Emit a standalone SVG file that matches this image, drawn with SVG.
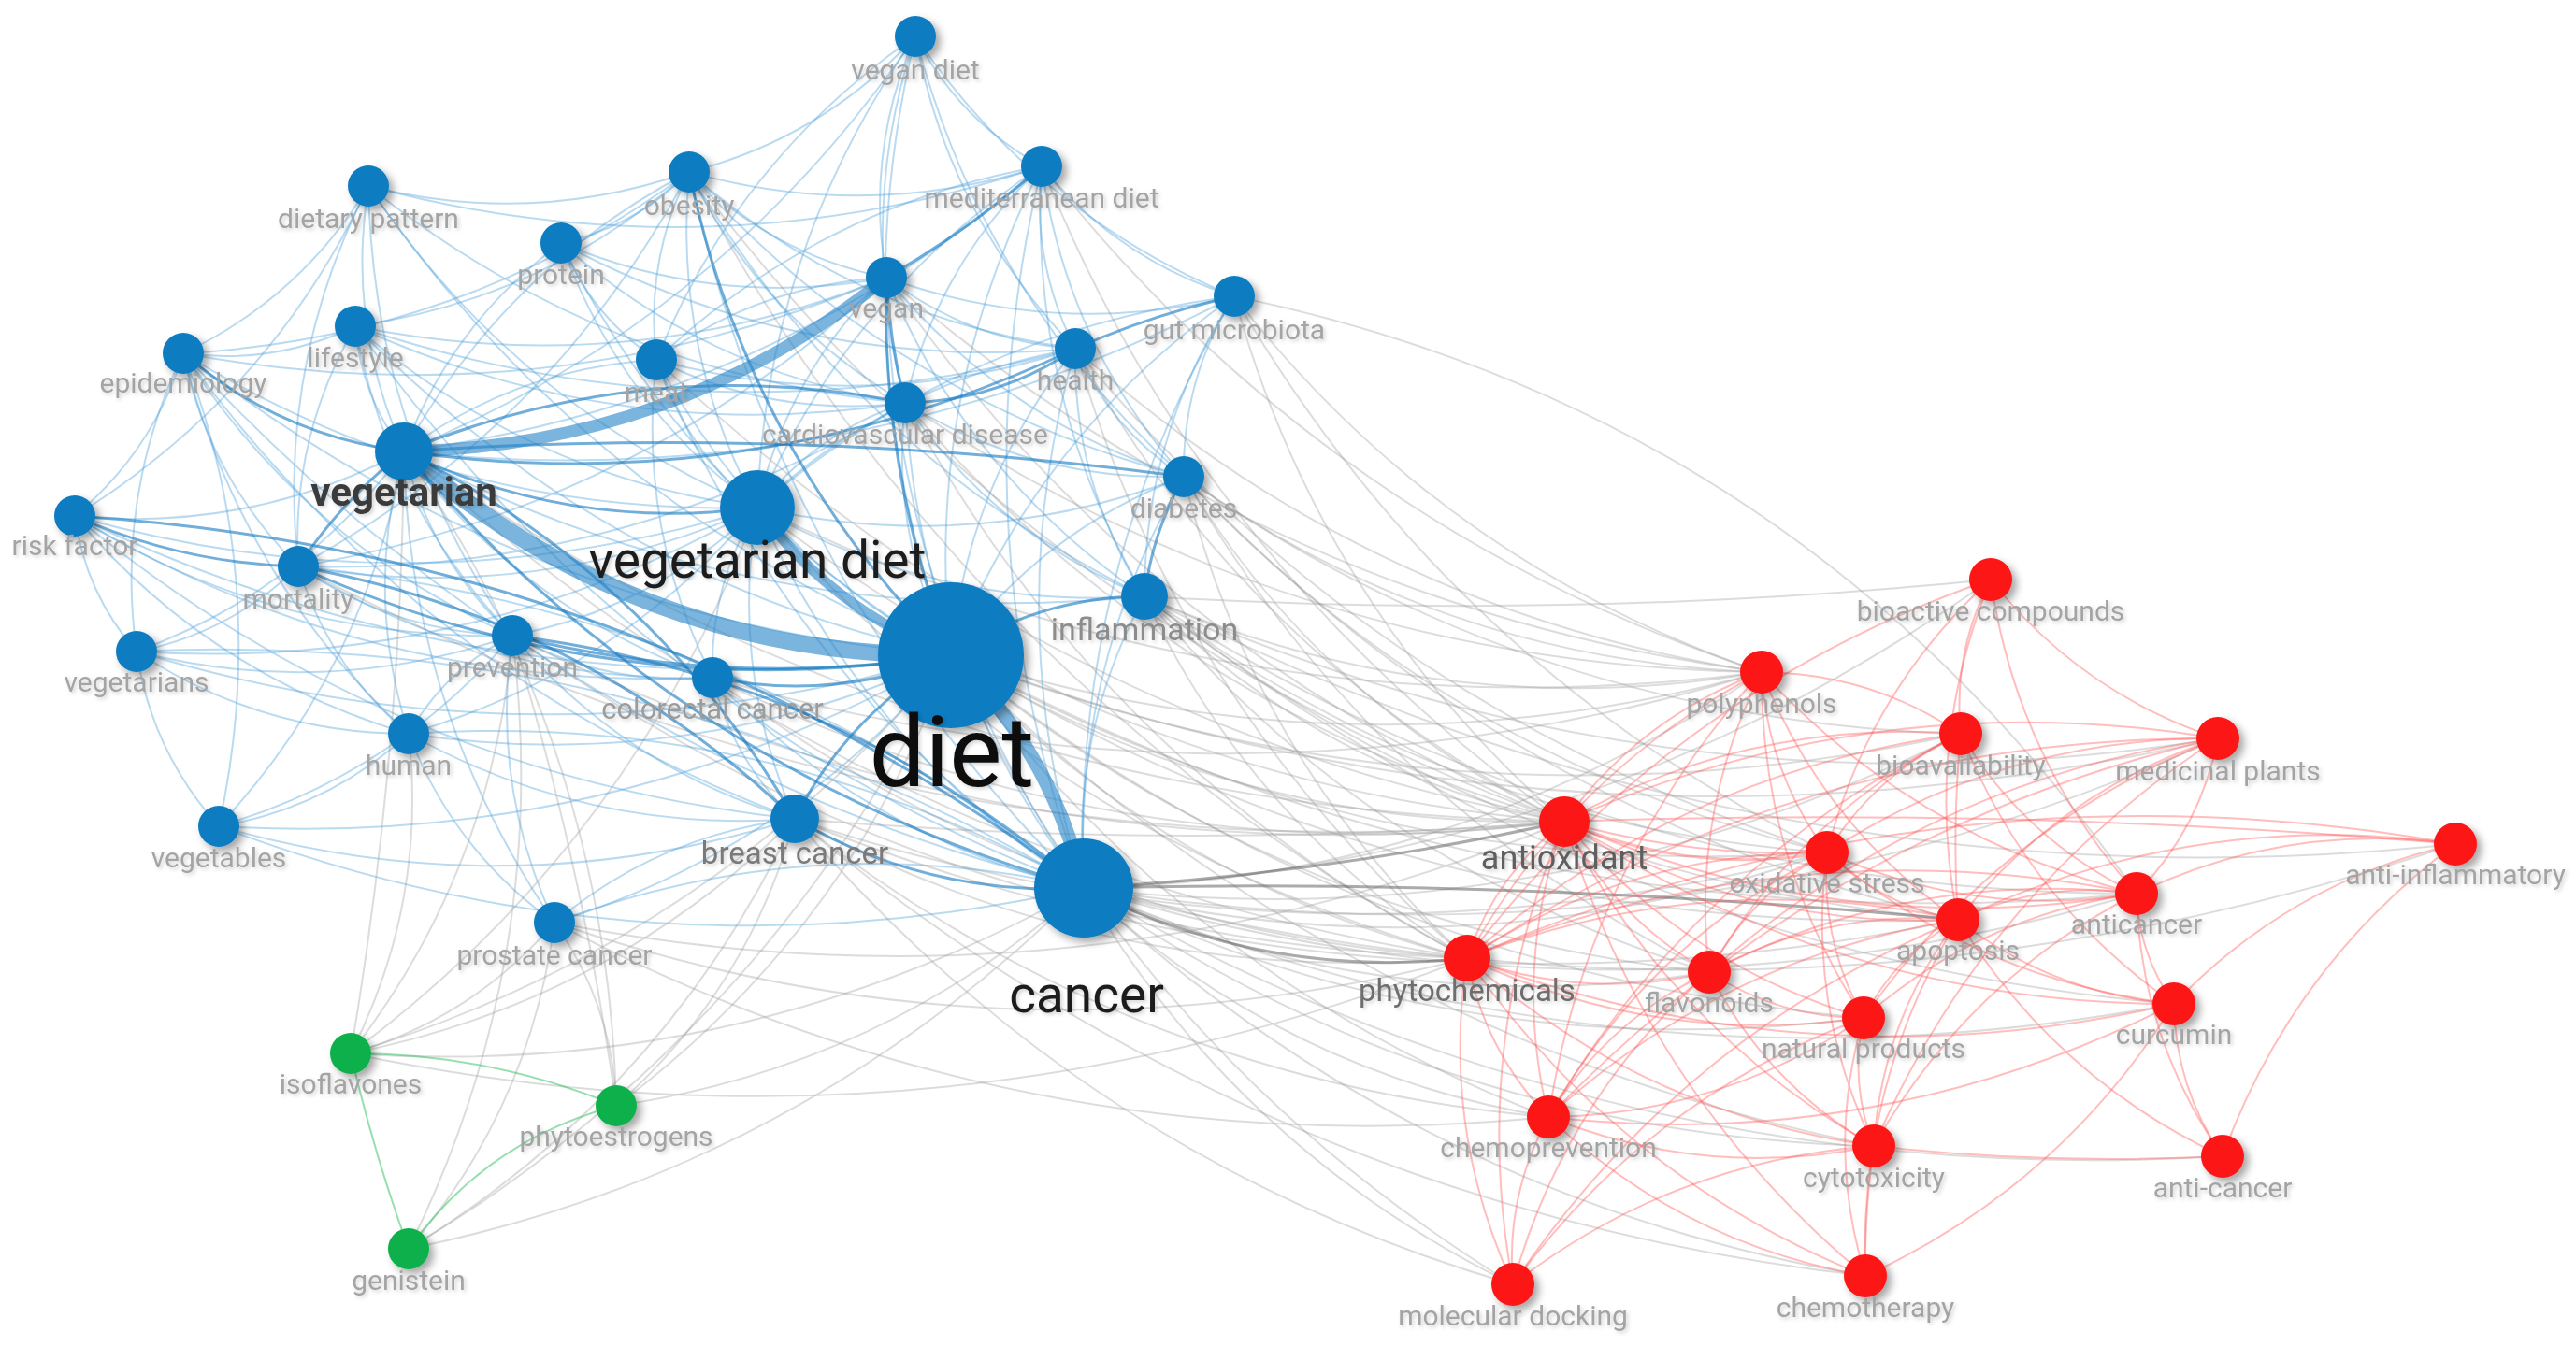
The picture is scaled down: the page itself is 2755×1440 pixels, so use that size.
<svg xmlns="http://www.w3.org/2000/svg" width="2755" height="1440" viewBox="0 0 2755 1440">
<defs>
<filter id="sh" x="-60%" y="-60%" width="220%" height="220%"><feDropShadow dx="5" dy="5" stdDeviation="4" flood-color="#000" flood-opacity="0.35"/></filter>
<filter id="ts" x="-10%" y="-40%" width="120%" height="180%"><feDropShadow dx="2" dy="2" stdDeviation="2" flood-color="#000" flood-opacity="0.18"/></filter>
<style>
.e path{fill:none;vector-effect:non-scaling-stroke;stroke-linecap:round}
.g path{stroke:#999;stroke-opacity:.34;stroke-width:2}
.g2 path{stroke:#666;stroke-opacity:.55;stroke-width:3}
.r path{stroke:#ff5a5a;stroke-opacity:.4;stroke-width:2}
.gr path{stroke:#2fbf62;stroke-opacity:.5;stroke-width:2}
.b path{stroke:#4a9fd8;stroke-opacity:.38;stroke-width:2}
.bm path{stroke:#1a7dc2;stroke-opacity:.62;stroke-width:3}
.tk path{stroke:#2a86c8;stroke-opacity:.62}
.nb circle{fill:#0b7cc1;filter:url(#sh)}
.nr circle{fill:#fc1515;filter:url(#sh)}
.ng circle{fill:#0db04b;filter:url(#sh)}
text{font-family:Roboto,"Liberation Sans",Arial,sans-serif;font-size:30px;fill:#a4a4a4;text-anchor:middle;filter:url(#ts)}
text.vg{font-size:42px;font-weight:bold;fill:#3a3a3a}
text.vd{font-size:55px;fill:#1c1c1c}
text.di{font-size:106px;fill:#111}
text.ca{font-size:55px;fill:#1c1c1c}
text.in{font-size:34px;fill:#8c8c8c}
text.bc{font-size:33px;fill:#7a7a7a}
text.cc{font-size:31px;fill:#9c9c9c}
text.ao{font-size:36px;fill:#5e5e5e}
text.ph{font-size:33px;fill:#6e6e6e}
</style>
</defs>
<rect width="2755" height="1440" fill="#fff"/>
<g id="connectors">
<g class="e g">
<path d="M0 0Q.5 .15 1 0" transform="matrix(656 178 -178 656 1017 701)"/>
<path d="M0 0Q.5 .15 1 0" transform="matrix(552 324 -324 552 1017 701)"/>
<path d="M0 0Q.5 .15 1 0" transform="matrix(867 18 -18 867 1017 701)"/>
<path d="M0 0Q.5 .15 1 0" transform="matrix(937 211 -211 937 1017 701)"/>
<path d="M0 0Q.5 .15 1 0" transform="matrix(811 339 -339 811 1017 701)"/>
<path d="M0 0Q.5 .15 1 0" transform="matrix(1077 283 -283 1077 1017 701)"/>
<path d="M0 0Q.5 .15 1 0" transform="matrix(1080 84 -84 1080 1017 701)"/>
<path d="M0 0Q.5 .15 1 0" transform="matrix(976 388 -388 976 1017 701)"/>
<path d="M0 0Q.5 .15 1 0" transform="matrix(639 494 -494 639 1017 701)"/>
<path d="M0 0Q.5 .15 1 0" transform="matrix(1268 255 -255 1268 1017 701)"/>
<path d="M0 0Q.5 .15 1 0" transform="matrix(1355 89 -89 1355 1017 701)"/>
<path d="M0 0Q.5 .15 1 0" transform="matrix(601 673 -673 601 1017 701)"/>
<path d="M0 0Q.5 .15 1 0" transform="matrix(987 525 -525 987 1017 701)"/>
<path d="M0 0Q.5 .15 1 0" transform="matrix(725 -231 231 725 1159 950)"/>
<path d="M0 0Q.5 .15 1 0" transform="matrix(795 -38 38 795 1159 950)"/>
<path d="M0 0Q.5 .15 1 0" transform="matrix(669 90 -90 669 1159 950)"/>
<path d="M0 0Q.5 .15 1 0" transform="matrix(497 245 -245 497 1159 950)"/>
<path d="M0 0Q.5 .15 1 0" transform="matrix(834 139 -139 834 1159 950)"/>
<path d="M0 0Q.5 .15 1 0" transform="matrix(845 276 -276 845 1159 950)"/>
<path d="M0 0Q.5 .15 1 0" transform="matrix(836 415 -415 836 1159 950)"/>
<path d="M0 0Q.5 .15 1 0" transform="matrix(1126 6 -6 1126 1159 950)"/>
<path d="M0 0Q.5 .15 1 0" transform="matrix(1166 124 -124 1166 1159 950)"/>
<path d="M0 0Q.5 .15 1 0" transform="matrix(459 424 -424 459 1159 950)"/>
<path d="M0 0Q.5 .15 1 0" transform="matrix(938 -165 165 938 1159 950)"/>
<path d="M0 0Q.5 .15 1 0" transform="matrix(1213 -160 160 1213 1159 950)"/>
<path d="M0 0Q.5 .15 1 0" transform="matrix(1467 -47 47 1467 1159 950)"/>
<path d="M0 0Q.5 .15 1 0" transform="matrix(970 -330 330 970 1159 950)"/>
<path d="M0 0Q.5 .15 1 0" transform="matrix(1218 287 -287 1218 1159 950)"/>
<path d="M0 0Q.5 .04 1 0" transform="matrix(905 -18 18 905 1224 638)"/>
<path d="M0 0Q.5 .15 1 0" transform="matrix(449 241 -241 449 1224 638)"/>
<path d="M0 0Q.5 .15 1 0" transform="matrix(730 274 -274 730 1224 638)"/>
<path d="M0 0Q.5 .15 1 0" transform="matrix(660 81 -81 660 1224 638)"/>
<path d="M0 0Q.5 .15 1 0" transform="matrix(345 387 -387 345 1224 638)"/>
<path d="M0 0Q.5 .15 1 0" transform="matrix(870 346 -346 870 1224 638)"/>
<path d="M0 0Q.5 .15 1 0" transform="matrix(604 402 -402 604 1224 638)"/>
<path d="M0 0Q.5 .15 1 0" transform="matrix(1061 318 -318 1061 1224 638)"/>
<path d="M0 0Q.5 .15 1 0" transform="matrix(1101 436 -436 1101 1224 638)"/>
<path d="M0 0Q.5 .15 1 0" transform="matrix(1402 265 -265 1402 1224 638)"/>
<path d="M0 0Q.5 .15 1 0" transform="matrix(1148 152 -152 1148 1224 638)"/>
<path d="M0 0Q.5 .15 1 0" transform="matrix(407 369 -369 407 1266 510)"/>
<path d="M0 0Q.5 .15 1 0" transform="matrix(618 209 -209 618 1266 510)"/>
<path d="M0 0Q.5 .15 1 0" transform="matrix(688 402 -402 688 1266 510)"/>
<path d="M0 0Q.5 .15 1 0" transform="matrix(303 515 -515 303 1266 510)"/>
<path d="M0 0Q.5 .15 1 0" transform="matrix(562 530 -530 562 1266 510)"/>
<path d="M0 0Q.5 .15 1 0" transform="matrix(828 474 -474 828 1266 510)"/>
<path d="M0 0Q.5 .15 1 0" transform="matrix(831 275 -275 831 1266 510)"/>
<path d="M0 0Q.5 .2 1 0" transform="matrix(-965 -639 639 -965 2285 956)"/>
<path d="M0 0Q.5 .15 1 0" transform="matrix(564 402 -402 564 1320 317)"/>
<path d="M0 0Q.5 .15 1 0" transform="matrix(634 595 -595 634 1320 317)"/>
<path d="M0 0Q.5 .15 1 0" transform="matrix(353 562 -562 353 1320 317)"/>
<path d="M0 0Q.5 .15 1 0" transform="matrix(523 506 -506 523 1150 373)"/>
<path d="M0 0Q.5 .15 1 0" transform="matrix(734 346 -346 734 1150 373)"/>
<path d="M0 0Q.5 .15 1 0" transform="matrix(419 652 -652 419 1150 373)"/>
<path d="M0 0Q.5 .15 1 0" transform="matrix(804 539 -539 804 1150 373)"/>
<path d="M0 0Q.5 .15 1 0" transform="matrix(770 541 -541 770 1114 178)"/>
<path d="M0 0Q.5 .15 1 0" transform="matrix(559 701 -701 559 1114 178)"/>
<path d="M0 0Q.5 .15 1 0" transform="matrix(936 695 -695 936 737 184)"/>
<path d="M0 0Q.5 .15 1 0" transform="matrix(832 841 -841 832 737 184)"/>
<path d="M0 0Q.5 .15 1 0" transform="matrix(705 448 -448 705 968 431)"/>
<path d="M0 0Q.5 .15 1 0" transform="matrix(601 594 -594 601 968 431)"/>
<path d="M0 0Q.5 .15 1 0" transform="matrix(916 288 -288 916 968 431)"/>
<path d="M0 0Q.5 .15 1 0" transform="matrix(863 336 -336 863 810 543)"/>
<path d="M0 0Q.5 .15 1 0" transform="matrix(759 482 -482 759 810 543)"/>
<path d="M0 0Q.5 .15 1 0" transform="matrix(1074 176 -176 1074 810 543)"/>
<path d="M0 0Q.5 .15 1 0" transform="matrix(1241 396 -396 1241 432 483)"/>
<path d="M0 0Q.5 .15 1 0" transform="matrix(1137 542 -542 1137 432 483)"/>
<path d="M0 0Q.5 .04 1 0" transform="matrix(823 3 -3 823 850 876)"/>
<path d="M0 0Q.5 .15 1 0" transform="matrix(719 149 -149 719 850 876)"/>
<path d="M0 0Q.5 .15 1 0" transform="matrix(1104 36 -36 1104 850 876)"/>
<path d="M0 0Q.5 .15 1 0" transform="matrix(806 319 -319 806 850 876)"/>
<path d="M0 0Q.5 .15 1 0" transform="matrix(1244 108 -108 1244 850 876)"/>
<path d="M0 0Q.5 .15 1 0" transform="matrix(1145 489 -489 1145 850 876)"/>
<path d="M0 0Q.5 .15 1 0" transform="matrix(768 498 -498 768 850 876)"/>
<path d="M0 0Q.5 .15 1 0" transform="matrix(911 154 -154 911 762 725)"/>
<path d="M0 0Q.5 .15 1 0" transform="matrix(807 300 -300 807 762 725)"/>
<path d="M0 0Q.5 .15 1 0" transform="matrix(1122 -6 6 1122 762 725)"/>
<path d="M0 0Q.5 .15 1 0" transform="matrix(1080 -108 108 1080 593 987)"/>
<path d="M0 0Q.5 .15 1 0" transform="matrix(976 38 -38 976 593 987)"/>
<path d="M0 0Q.5 .15 1 0" transform="matrix(1063 208 -208 1063 593 987)"/>
<path d="M0 0Q.5 .15 1 0" transform="matrix(1125 199 -199 1125 548 680)"/>
<path d="M0 0Q.5 .15 1 0" transform="matrix(1021 345 -345 1021 548 680)"/>
<path d="M0 0Q.5 .15 1 0" transform="matrix(971 494 -494 971 702 385)"/>
<path d="M0 0Q.5 .15 1 0" transform="matrix(725 582 -582 725 948 297)"/>
<path d="M0 0Q.5 .15 1 0" transform="matrix(936 422 -422 936 948 297)"/>
<path d="M0 0Q.5 .15 1 0" transform="matrix(1194 -102 102 1194 375 1127)"/>
<path d="M0 0Q.5 .15 1 0" transform="matrix(1354 273 -273 1354 319 606)"/>
<path d="M0 0Q.5 .04 1 0" transform="matrix(57 -644 644 57 375 1127)"/>
<path d="M0 0Q.5 .15 1 0" transform="matrix(642 -426 426 642 375 1127)"/>
<path d="M0 0Q.5 .15 1 0" transform="matrix(784 -177 177 784 375 1127)"/>
<path d="M0 0Q.5 .15 1 0" transform="matrix(218 -140 140 218 375 1127)"/>
<path d="M0 0Q.5 .15 1 0" transform="matrix(475 -251 251 475 375 1127)"/>
<path d="M0 0Q.5 .15 1 0" transform="matrix(173 -447 447 173 375 1127)"/>
<path d="M0 0Q.5 .15 1 0" transform="matrix(62 -342 342 62 375 1127)"/>
<path d="M0 0Q.5 .15 1 0" transform="matrix(435 -584 584 435 375 1127)"/>
<path d="M0 0Q.5 .04 1 0" transform="matrix(-111 -503 503 -111 659 1183)"/>
<path d="M0 0Q.5 .15 1 0" transform="matrix(358 -482 482 358 659 1183)"/>
<path d="M0 0Q.5 .15 1 0" transform="matrix(500 -233 233 500 659 1183)"/>
<path d="M0 0Q.5 .15 1 0" transform="matrix(-66 -196 196 -66 659 1183)"/>
<path d="M0 0Q.5 .15 1 0" transform="matrix(191 -307 307 191 659 1183)"/>
<path d="M0 0Q.5 .15 1 0" transform="matrix(-227 -700 700 -227 659 1183)"/>
<path d="M0 0Q.5 .15 1 0" transform="matrix(580 -635 635 580 437 1336)"/>
<path d="M0 0Q.5 .15 1 0" transform="matrix(722 -386 386 722 437 1336)"/>
<path d="M0 0Q.5 .15 1 0" transform="matrix(156 -349 349 156 437 1336)"/>
<path d="M0 0Q.5 .15 1 0" transform="matrix(413 -460 460 413 437 1336)"/>
<path d="M0 0Q.5 .15 1 0" transform="matrix(111 -656 656 111 437 1336)"/>
</g>
<g class="e g2">
<path d="M0 0Q.5 .04 1 0" transform="matrix(514 -71 71 514 1159 950)"/>
<path d="M0 0Q.5 .15 1 0" transform="matrix(410 75 -75 410 1159 950)"/>
<path d="M0 0Q.5 .03 1 0" transform="matrix(-935 -34 34 -935 2094 984)"/>
</g>
<g class="e r">
<path d="M0 0Q.5 .15 1 0" transform="matrix(-32 165 -165 -32 2129 620)"/>
<path d="M0 0Q.5 .15 1 0" transform="matrix(156 336 -336 156 2129 620)"/>
<path d="M0 0Q.5 .15 1 0" transform="matrix(243 170 -170 243 2129 620)"/>
<path d="M0 0Q.5 .15 1 0" transform="matrix(-35 364 -364 -35 2129 620)"/>
<path d="M0 0Q.5 .15 1 0" transform="matrix(-175 292 -292 -175 2129 620)"/>
<path d="M0 0Q.5 .15 1 0" transform="matrix(-560 405 -405 -560 2129 620)"/>
<path d="M0 0Q.5 .15 1 0" transform="matrix(-211 160 -160 -211 1884 719)"/>
<path d="M0 0Q.5 .15 1 0" transform="matrix(-315 306 -306 -315 1884 719)"/>
<path d="M0 0Q.5 .15 1 0" transform="matrix(70 193 -193 70 1884 719)"/>
<path d="M0 0Q.5 .15 1 0" transform="matrix(-56 321 -321 -56 1884 719)"/>
<path d="M0 0Q.5 .15 1 0" transform="matrix(-213 -66 66 -213 2097 785)"/>
<path d="M0 0Q.5 .15 1 0" transform="matrix(210 265 -265 210 1884 719)"/>
<path d="M0 0Q.5 .15 1 0" transform="matrix(109 370 -370 109 1884 719)"/>
<path d="M0 0Q.5 .15 1 0" transform="matrix(401 237 -237 401 1884 719)"/>
<path d="M0 0Q.5 .15 1 0" transform="matrix(-228 476 -476 -228 1884 719)"/>
<path d="M0 0Q.5 .04 1 0" transform="matrix(-3 199 -199 -3 2097 785)"/>
<path d="M0 0Q.5 .15 1 0" transform="matrix(-143 127 -127 -143 2097 785)"/>
<path d="M0 0Q.5 .15 1 0" transform="matrix(-528 240 -240 -528 2097 785)"/>
<path d="M0 0Q.5 .15 1 0" transform="matrix(-424 94 -94 -424 2097 785)"/>
<path d="M0 0Q.5 .15 1 0" transform="matrix(188 171 -171 188 2097 785)"/>
<path d="M0 0Q.5 .15 1 0" transform="matrix(228 289 -289 228 2097 785)"/>
<path d="M0 0Q.5 .15 1 0" transform="matrix(-269 255 -255 -269 2097 785)"/>
<path d="M0 0Q.5 .15 1 0" transform="matrix(-441 410 -410 -441 2097 785)"/>
<path d="M0 0Q.5 .15 1 0" transform="matrix(-699 89 -89 -699 2372 790)"/>
<path d="M0 0Q.5 .15 1 0" transform="matrix(-803 235 -235 -803 2372 790)"/>
<path d="M0 0Q.5 .15 1 0" transform="matrix(-278 194 -194 -278 2372 790)"/>
<path d="M0 0Q.5 .15 1 0" transform="matrix(-418 122 -122 -418 2372 790)"/>
<path d="M0 0Q.5 .15 1 0" transform="matrix(87 -166 166 87 2285 956)"/>
<path d="M0 0Q.5 .15 1 0" transform="matrix(-379 299 -299 -379 2372 790)"/>
<path d="M0 0Q.5 .15 1 0" transform="matrix(-544 250 -250 -544 2372 790)"/>
<path d="M0 0Q.5 .15 1 0" transform="matrix(-368 436 -436 -368 2372 790)"/>
<path d="M0 0Q.5 .15 1 0" transform="matrix(-716 405 -405 -716 2372 790)"/>
<path d="M0 0Q.5 .03 1 0" transform="matrix(-953 -24 24 -953 2626 903)"/>
<path d="M0 0Q.5 .15 1 0" transform="matrix(-341 53 -53 -341 2626 903)"/>
<path d="M0 0Q.5 .15 1 0" transform="matrix(-532 81 -81 -532 2626 903)"/>
<path d="M0 0Q.5 .15 1 0" transform="matrix(-301 171 -171 -301 2626 903)"/>
<path d="M0 0Q.5 .15 1 0" transform="matrix(-249 334 -334 -249 2626 903)"/>
<path d="M0 0Q.5 .15 1 0" transform="matrix(-1057 122 -122 -1057 2626 903)"/>
<path d="M0 0Q.5 .15 1 0" transform="matrix(281 33 -33 281 1673 879)" style="stroke-width:3"/>
<path d="M0 0Q.5 .08 1 0" transform="matrix(281 33 -33 281 1673 879)"/>
<path d="M0 0Q.5 .15 1 0" transform="matrix(-104 146 -146 -104 1673 879)"/>
<path d="M0 0Q.5 .15 1 0" transform="matrix(-17 316 -316 -17 1673 879)"/>
<path d="M0 0Q.5 .15 1 0" transform="matrix(155 161 -161 155 1673 879)"/>
<path d="M0 0Q.5 .15 1 0" transform="matrix(421 105 -105 421 1673 879)"/>
<path d="M0 0Q.5 .15 1 0" transform="matrix(612 77 -77 612 1673 879)"/>
<path d="M0 0Q.5 .15 1 0" transform="matrix(652 195 -195 652 1673 879)"/>
<path d="M0 0Q.5 .15 1 0" transform="matrix(320 210 -210 320 1673 879)"/>
<path d="M0 0Q.5 .15 1 0" transform="matrix(331 347 -347 331 1673 879)"/>
<path d="M0 0Q.5 .15 1 0" transform="matrix(-55 495 -495 -55 1673 879)"/>
<path d="M0 0Q.5 .15 1 0" transform="matrix(322 486 -486 322 1673 879)"/>
<path d="M0 0Q.5 .15 1 0" transform="matrix(140 72 -72 140 1954 912)"/>
<path d="M0 0Q.5 .15 1 0" transform="matrix(39 177 -177 39 1954 912)"/>
<path d="M0 0Q.5 .15 1 0" transform="matrix(-126 128 -128 -126 1954 912)"/>
<path d="M0 0Q.5 .15 1 0" transform="matrix(-298 283 -283 -298 1954 912)"/>
<path d="M0 0Q.5 .15 1 0" transform="matrix(331 44 -44 331 1954 912)"/>
<path d="M0 0Q.5 .15 1 0" transform="matrix(-385 113 -113 -385 1954 912)"/>
<path d="M0 0Q.5 .15 1 0" transform="matrix(50 314 -314 50 1954 912)"/>
<path d="M0 0Q.5 .15 1 0" transform="matrix(371 162 -162 371 1954 912)"/>
<path d="M0 0Q.5 .15 1 0" transform="matrix(-191 28 -28 -191 2285 956)"/>
<path d="M0 0Q.5 .15 1 0" transform="matrix(40 118 -118 40 2285 956)"/>
<path d="M0 0Q.5 .15 1 0" transform="matrix(92 281 -281 92 2285 956)"/>
<path d="M0 0Q.5 .15 1 0" transform="matrix(-716 69 -69 -716 2285 956)"/>
<path d="M0 0Q.5 .15 1 0" transform="matrix(-457 84 -84 -457 2285 956)"/>
<path d="M0 0Q.5 .15 1 0" transform="matrix(-281 270 -270 -281 2285 956)"/>
<path d="M0 0Q.5 .15 1 0" transform="matrix(-292 133 -133 -292 2285 956)"/>
<path d="M0 0Q.5 .15 1 0" transform="matrix(-525 41 -41 -525 2094 984)"/>
<path d="M0 0Q.5 .15 1 0" transform="matrix(-266 56 -56 -266 2094 984)"/>
<path d="M0 0Q.5 .15 1 0" transform="matrix(-90 242 -242 -90 2094 984)"/>
<path d="M0 0Q.5 .15 1 0" transform="matrix(-99 381 -381 -99 2094 984)"/>
<path d="M0 0Q.5 .15 1 0" transform="matrix(231 90 -90 231 2094 984)"/>
<path d="M0 0Q.5 .15 1 0" transform="matrix(283 253 -253 283 2094 984)"/>
<path d="M0 0Q.5 .15 1 0" transform="matrix(-101 105 -105 -101 2094 984)"/>
<path d="M0 0Q.5 .15 1 0" transform="matrix(-438 211 -211 -438 2094 984)"/>
<path d="M0 0Q.5 .15 1 0" transform="matrix(-476 390 -390 -476 2094 984)"/>
<path d="M0 0Q.5 .15 1 0" transform="matrix(87 170 -170 87 1569 1025)"/>
<path d="M0 0Q.5 .15 1 0" transform="matrix(49 349 -349 49 1569 1025)"/>
<path d="M0 0Q.5 .15 1 0" transform="matrix(259 15 -15 259 1569 1025)"/>
<path d="M0 0Q.5 .15 1 0" transform="matrix(756 49 -49 756 1569 1025)"/>
<path d="M0 0Q.5 .15 1 0" transform="matrix(426 340 -340 426 1569 1025)"/>
<path d="M0 0Q.5 .15 1 0" transform="matrix(424 64 -64 424 1569 1025)"/>
<path d="M0 0Q.5 .15 1 0" transform="matrix(435 201 -201 435 1569 1025)"/>
<path d="M0 0Q.5 .15 1 0" transform="matrix(165 49 -49 165 1828 1040)"/>
<path d="M0 0Q.5 .15 1 0" transform="matrix(-172 155 -155 -172 1828 1040)"/>
<path d="M0 0Q.5 .15 1 0" transform="matrix(176 186 -186 176 1828 1040)"/>
<path d="M0 0Q.5 .15 1 0" transform="matrix(-210 334 -334 -210 1828 1040)"/>
<path d="M0 0Q.5 .15 1 0" transform="matrix(11 137 -137 11 1993 1089)"/>
<path d="M0 0Q.5 .15 1 0" transform="matrix(2 276 -276 2 1993 1089)"/>
<path d="M0 0Q.5 .15 1 0" transform="matrix(-375 285 -285 -375 1993 1089)"/>
<path d="M0 0Q.5 .15 1 0" transform="matrix(52 163 -163 52 2325 1074)"/>
<path d="M0 0Q.5 .15 1 0" transform="matrix(669 -121 121 669 1656 1195)"/>
<path d="M0 0Q.5 .15 1 0" transform="matrix(330 -291 291 330 1995 1365)"/>
<path d="M0 0Q.5 .15 1 0" transform="matrix(-38 179 -179 -38 1656 1195)"/>
<path d="M0 0Q.5 .15 1 0" transform="matrix(339 170 -170 339 1656 1195)"/>
<path d="M0 0Q.5 .15 1 0" transform="matrix(337 -106 106 337 1656 1195)"/>
<path d="M0 0Q.5 .15 1 0" transform="matrix(348 31 -31 348 1656 1195)"/>
<path d="M0 0Q.5 .04 1 0" transform="matrix(373 11 -11 373 2004 1226)"/>
<path d="M0 0Q.5 .04 1 0" transform="matrix(-9 139 -139 -9 2004 1226)"/>
<path d="M0 0Q.5 .15 1 0" transform="matrix(-386 148 -148 -386 2004 1226)"/>
</g>
<g class="e gr">
<path d="M0 0Q.5 .1 1 0" transform="matrix(-284 -56 56 -284 659 1183)"/>
<path d="M0 0Q.5 .03 1 0" transform="matrix(62 209 -209 62 375 1127)"/>
<path d="M0 0Q.5 .18 1 0" transform="matrix(-222 153 -153 -222 659 1183)"/>
</g>
<g class="e b">
<path d="M0 0Q.5 .15 1 0" transform="matrix(242 -145 145 242 737 184)"/>
<path d="M0 0Q.5 .15 1 0" transform="matrix(135 139 -139 135 979 39)"/>
<path d="M0 0Q.5 .15 1 0" transform="matrix(-31 258 -258 -31 979 39)"/>
<path d="M0 0Q.5 .15 1 0" transform="matrix(-169 504 -504 -169 979 39)"/>
<path d="M0 0Q.5 .15 1 0" transform="matrix(38 662 -662 38 979 39)"/>
<path d="M0 0Q.5 .15 1 0" transform="matrix(-11 392 -392 -11 979 39)"/>
<path d="M0 0Q.5 .15 1 0" transform="matrix(171 334 -334 171 979 39)"/>
<path d="M0 0Q.5 .15 1 0" transform="matrix(341 278 -278 341 979 39)"/>
<path d="M0 0Q.5 .15 1 0" transform="matrix(547 -444 444 547 432 483)"/>
<path d="M0 0Q.5 .15 1 0" transform="matrix(287 471 -471 287 979 39)"/>
<path d="M0 0Q.5 .15 1 0" transform="matrix(-277 346 -346 -277 979 39)"/>
<path d="M0 0Q.5 .15 1 0" transform="matrix(343 -15 15 343 394 199)"/>
<path d="M0 0Q.5 .15 1 0" transform="matrix(38 284 -284 38 394 199)"/>
<path d="M0 0Q.5 .15 1 0" transform="matrix(623 502 -502 623 394 199)"/>
<path d="M0 0Q.5 .15 1 0" transform="matrix(-75 407 -407 -75 394 199)"/>
<path d="M0 0Q.5 .15 1 0" transform="matrix(198 -179 179 198 196 378)"/>
<path d="M0 0Q.5 .15 1 0" transform="matrix(720 -21 21 720 394 199)"/>
<path d="M0 0Q.5 .15 1 0" transform="matrix(574 232 -232 574 394 199)"/>
<path d="M0 0Q.5 .15 1 0" transform="matrix(416 344 -344 416 394 199)"/>
<path d="M0 0Q.5 .15 1 0" transform="matrix(314 -353 353 314 80 552)"/>
<path d="M0 0Q.5 .15 1 0" transform="matrix(154 481 -481 154 394 199)"/>
<path d="M0 0Q.5 .15 1 0" transform="matrix(377 -6 6 377 737 184)"/>
<path d="M0 0Q.5 .15 1 0" transform="matrix(-305 299 -299 -305 737 184)"/>
<path d="M0 0Q.5 .15 1 0" transform="matrix(73 359 -359 73 737 184)"/>
<path d="M0 0Q.5 .15 1 0" transform="matrix(529 326 -326 529 737 184)"/>
<path d="M0 0Q.5 .15 1 0" transform="matrix(231 247 -247 231 737 184)"/>
<path d="M0 0Q.5 .15 1 0" transform="matrix(413 189 -189 413 737 184)"/>
<path d="M0 0Q.5 .15 1 0" transform="matrix(487 454 -454 487 737 184)"/>
<path d="M0 0Q.5 .15 1 0" transform="matrix(541 -194 194 541 196 378)"/>
<path d="M0 0Q.5 .15 1 0" transform="matrix(211 113 -113 211 737 184)"/>
<path d="M0 0Q.5 .15 1 0" transform="matrix(-35 201 -201 -35 737 184)"/>
<path d="M0 0Q.5 .15 1 0" transform="matrix(137 -76 76 137 600 260)"/>
<path d="M0 0Q.5 .15 1 0" transform="matrix(357 -165 165 357 380 349)"/>
<path d="M0 0Q.5 .15 1 0" transform="matrix(422 766 -766 422 737 184)"/>
<path d="M0 0Q.5 .15 1 0" transform="matrix(418 -422 422 418 319 606)"/>
<path d="M0 0Q.5 .15 1 0" transform="matrix(36 195 -195 36 1114 178)"/>
<path d="M0 0Q.5 .15 1 0" transform="matrix(-97 523 -523 -97 1114 178)"/>
<path d="M0 0Q.5 .15 1 0" transform="matrix(-146 253 -253 -146 1114 178)"/>
<path d="M0 0Q.5 .15 1 0" transform="matrix(152 332 -332 152 1114 178)"/>
<path d="M0 0Q.5 .15 1 0" transform="matrix(682 -305 305 682 432 483)"/>
<path d="M0 0Q.5 .15 1 0" transform="matrix(110 460 -460 110 1114 178)"/>
<path d="M0 0Q.5 .15 1 0" transform="matrix(206 139 -139 206 1114 178)"/>
<path d="M0 0Q.5 .15 1 0" transform="matrix(-304 365 -365 -304 1114 178)"/>
<path d="M0 0Q.5 .15 1 0" transform="matrix(45 772 -772 45 1114 178)"/>
<path d="M0 0Q.5 .15 1 0" transform="matrix(-412 207 -207 -412 1114 178)"/>
<path d="M0 0Q.5 .15 1 0" transform="matrix(-168 223 -223 -168 600 260)"/>
<path d="M0 0Q.5 .15 1 0" transform="matrix(417 441 -441 417 600 260)"/>
<path d="M0 0Q.5 .15 1 0" transform="matrix(348 37 -37 348 600 260)"/>
<path d="M0 0Q.5 .15 1 0" transform="matrix(102 125 -125 102 600 260)"/>
<path d="M0 0Q.5 .15 1 0" transform="matrix(550 113 -113 550 600 260)"/>
<path d="M0 0Q.5 .15 1 0" transform="matrix(210 283 -283 210 600 260)"/>
<path d="M0 0Q.5 .15 1 0" transform="matrix(368 171 -171 368 600 260)"/>
<path d="M0 0Q.5 .15 1 0" transform="matrix(-138 246 -246 -138 948 297)"/>
<path d="M0 0Q.5 .15 1 0" transform="matrix(202 76 -76 202 948 297)"/>
<path d="M0 0Q.5 .15 1 0" transform="matrix(-246 88 -88 -246 948 297)"/>
<path d="M0 0Q.5 .15 1 0" transform="matrix(318 213 -213 318 948 297)"/>
<path d="M0 0Q.5 .15 1 0" transform="matrix(211 653 -653 211 948 297)"/>
<path d="M0 0Q.5 .15 1 0" transform="matrix(752 -81 81 752 196 378)"/>
<path d="M0 0Q.5 .15 1 0" transform="matrix(568 -52 52 568 380 349)"/>
<path d="M0 0Q.5 .15 1 0" transform="matrix(629 -309 309 629 319 606)"/>
<path d="M0 0Q.5 .15 1 0" transform="matrix(372 20 -20 372 948 297)"/>
<path d="M0 0Q.5 .15 1 0" transform="matrix(276 341 -341 276 948 297)"/>
<path d="M0 0Q.5 .15 1 0" transform="matrix(-303 384 -384 -303 1320 317)"/>
<path d="M0 0Q.5 .15 1 0" transform="matrix(-96 321 -321 -96 1320 317)"/>
<path d="M0 0Q.5 .15 1 0" transform="matrix(-54 193 -193 -54 1320 317)"/>
<path d="M0 0Q.5 .15 1 0" transform="matrix(-510 226 -226 -510 1320 317)"/>
<path d="M0 0Q.5 .15 1 0" transform="matrix(888 -166 166 888 432 483)"/>
<path d="M0 0Q.5 .15 1 0" transform="matrix(-161 633 -633 -161 1320 317)"/>
<path d="M0 0Q.5 .15 1 0" transform="matrix(52 134 -134 52 380 349)"/>
<path d="M0 0Q.5 .15 1 0" transform="matrix(637 352 -352 637 380 349)"/>
<path d="M0 0Q.5 .15 1 0" transform="matrix(-61 257 -257 -61 380 349)"/>
<path d="M0 0Q.5 .15 1 0" transform="matrix(184 -29 29 184 196 378)"/>
<path d="M0 0Q.5 .15 1 0" transform="matrix(588 82 -82 588 380 349)"/>
<path d="M0 0Q.5 .15 1 0" transform="matrix(770 24 -24 770 380 349)"/>
<path d="M0 0Q.5 .15 1 0" transform="matrix(168 331 -331 168 380 349)"/>
<path d="M0 0Q.5 .15 1 0" transform="matrix(430 194 -194 430 380 349)"/>
<path d="M0 0Q.5 .15 1 0" transform="matrix(779 601 -601 779 380 349)"/>
<path d="M0 0Q.5 .15 1 0" transform="matrix(821 323 -323 821 196 378)"/>
<path d="M0 0Q.5 .15 1 0" transform="matrix(123 228 -228 123 196 378)"/>
<path d="M0 0Q.5 .15 1 0" transform="matrix(116 -174 174 116 80 552)"/>
<path d="M0 0Q.5 .15 1 0" transform="matrix(-50 319 -319 -50 196 378)"/>
<path d="M0 0Q.5 .15 1 0" transform="matrix(-38 -506 506 -38 234 884)"/>
<path d="M0 0Q.5 .15 1 0" transform="matrix(241 407 -407 241 196 378)"/>
<path d="M0 0Q.5 .15 1 0" transform="matrix(963 572 -572 963 196 378)"/>
<path d="M0 0Q.5 .15 1 0" transform="matrix(352 302 -302 352 196 378)"/>
<path d="M0 0Q.5 .15 1 0" transform="matrix(614 165 -165 614 196 378)"/>
<path d="M0 0Q.5 .15 1 0" transform="matrix(654 498 -498 654 196 378)"/>
<path d="M0 0Q.5 .15 1 0" transform="matrix(-270 98 -98 -270 702 385)"/>
<path d="M0 0Q.5 .15 1 0" transform="matrix(315 316 -316 315 702 385)"/>
<path d="M0 0Q.5 .15 1 0" transform="matrix(457 565 -565 457 702 385)"/>
<path d="M0 0Q.5 .15 1 0" transform="matrix(108 158 -158 108 702 385)"/>
<path d="M0 0Q.5 .15 1 0" transform="matrix(60 340 -340 60 702 385)"/>
<path d="M0 0Q.5 .15 1 0" transform="matrix(448 -12 12 448 702 385)"/>
<path d="M0 0Q.5 .15 1 0" transform="matrix(266 46 -46 266 702 385)"/>
<path d="M0 0Q.5 .15 1 0" transform="matrix(-133 328 -328 -133 1150 373)"/>
<path d="M0 0Q.5 .15 1 0" transform="matrix(116 137 -137 116 1150 373)"/>
<path d="M0 0Q.5 .15 1 0" transform="matrix(74 265 -265 74 1150 373)"/>
<path d="M0 0Q.5 .15 1 0" transform="matrix(-340 170 -170 -340 1150 373)"/>
<path d="M0 0Q.5 .15 1 0" transform="matrix(9 577 -577 9 1150 373)"/>
<path d="M0 0Q.5 .15 1 0" transform="matrix(49 270 -270 49 968 431)"/>
<path d="M0 0Q.5 .15 1 0" transform="matrix(298 79 -79 298 968 431)"/>
<path d="M0 0Q.5 .15 1 0" transform="matrix(-158 112 -112 -158 968 431)"/>
<path d="M0 0Q.5 .15 1 0" transform="matrix(191 519 -519 191 968 431)"/>
<path d="M0 0Q.5 .15 1 0" transform="matrix(649 -175 175 649 319 606)"/>
<path d="M0 0Q.5 .15 1 0" transform="matrix(256 207 -207 256 968 431)"/>
<path d="M0 0Q.5 .15 1 0" transform="matrix(352 -69 69 352 80 552)"/>
<path d="M0 0Q.5 .15 1 0" transform="matrix(116 197 -197 116 432 483)"/>
<path d="M0 0Q.5 .15 1 0" transform="matrix(5 302 -302 5 432 483)"/>
<path d="M0 0Q.5 .15 1 0" transform="matrix(330 242 -242 330 432 483)"/>
<path d="M0 0Q.5 .15 1 0" transform="matrix(286 -214 214 286 146 697)"/>
<path d="M0 0Q.5 .15 1 0" transform="matrix(198 -401 401 198 234 884)"/>
<path d="M0 0Q.5 .15 1 0" transform="matrix(792 155 -155 792 432 483)"/>
<path d="M0 0Q.5 .15 1 0" transform="matrix(161 504 -504 161 432 483)"/>
<path d="M0 0Q.5 .15 1 0" transform="matrix(349 407 -407 349 810 543)"/>
<path d="M0 0Q.5 .15 1 0" transform="matrix(491 -63 63 491 319 606)"/>
<path d="M0 0Q.5 .15 1 0" transform="matrix(262 -137 137 262 548 680)"/>
<path d="M0 0Q.5 .15 1 0" transform="matrix(-48 182 -182 -48 810 543)"/>
<path d="M0 0Q.5 .15 1 0" transform="matrix(40 333 -333 40 810 543)"/>
<path d="M0 0Q.5 .15 1 0" transform="matrix(414 95 -95 414 810 543)"/>
<path d="M0 0Q.5 .15 1 0" transform="matrix(456 -33 33 456 810 543)"/>
<path d="M0 0Q.5 .15 1 0" transform="matrix(730 -9 9 730 80 552)"/>
<path d="M0 0Q.5 .15 1 0" transform="matrix(373 -242 242 373 437 785)"/>
<path d="M0 0Q.5 .15 1 0" transform="matrix(664 -154 154 664 146 697)"/>
<path d="M0 0Q.5 .15 1 0" transform="matrix(-249 191 -191 -249 1266 510)"/>
<path d="M0 0Q.5 .15 1 0" transform="matrix(-107 440 -440 -107 1266 510)"/>
<path d="M0 0Q.5 .15 1 0" transform="matrix(937 149 -149 937 80 552)"/>
<path d="M0 0Q.5 .15 1 0" transform="matrix(468 128 -128 468 80 552)"/>
<path d="M0 0Q.5 .15 1 0" transform="matrix(682 173 -173 682 80 552)"/>
<path d="M0 0Q.5 .15 1 0" transform="matrix(66 145 -145 66 80 552)"/>
<path d="M0 0Q.5 .15 1 0" transform="matrix(357 233 -233 357 80 552)"/>
<path d="M0 0Q.5 .15 1 0" transform="matrix(770 324 -324 770 80 552)"/>
<path d="M0 0Q.5 .15 1 0" transform="matrix(-840 -344 344 -840 1159 950)"/>
<path d="M0 0Q.5 .15 1 0" transform="matrix(229 74 -74 229 319 606)"/>
<path d="M0 0Q.5 .15 1 0" transform="matrix(173 -91 91 173 146 697)"/>
<path d="M0 0Q.5 .15 1 0" transform="matrix(118 179 -179 118 319 606)"/>
<path d="M0 0Q.5 .15 1 0" transform="matrix(443 119 -119 443 319 606)"/>
<path d="M0 0Q.5 .15 1 0" transform="matrix(-65 312 -312 -65 1224 638)"/>
<path d="M0 0Q.5 .15 1 0" transform="matrix(580 -84 84 580 437 785)"/>
<path d="M0 0Q.5 .15 1 0" transform="matrix(871 4 -4 871 146 697)"/>
<path d="M0 0Q.5 .15 1 0" transform="matrix(783 -183 183 783 234 884)"/>
<path d="M0 0Q.5 .15 1 0" transform="matrix(424 -286 286 424 593 987)"/>
<path d="M0 0Q.5 .15 1 0" transform="matrix(214 45 -45 214 548 680)"/>
<path d="M0 0Q.5 .15 1 0" transform="matrix(302 196 -196 302 548 680)"/>
<path d="M0 0Q.5 .15 1 0" transform="matrix(-111 105 -105 -111 548 680)"/>
<path d="M0 0Q.5 .15 1 0" transform="matrix(45 307 -307 45 548 680)"/>
<path d="M0 0Q.5 .15 1 0" transform="matrix(402 -17 17 402 146 697)"/>
<path d="M0 0Q.5 .15 1 0" transform="matrix(314 -204 204 314 234 884)"/>
<path d="M0 0Q.5 .15 1 0" transform="matrix(-1013 -253 253 -1013 1159 950)"/>
<path d="M0 0Q.5 .15 1 0" transform="matrix(291 88 -88 291 146 697)"/>
<path d="M0 0Q.5 .15 1 0" transform="matrix(88 187 -187 88 146 697)"/>
<path d="M0 0Q.5 .15 1 0" transform="matrix(397 225 -225 397 762 725)"/>
<path d="M0 0Q.5 .15 1 0" transform="matrix(88 151 -151 88 762 725)"/>
<path d="M0 0Q.5 .15 1 0" transform="matrix(-722 -165 165 -722 1159 950)"/>
<path d="M0 0Q.5 .15 1 0" transform="matrix(203 -99 99 203 234 884)"/>
<path d="M0 0Q.5 .15 1 0" transform="matrix(156 202 -202 156 437 785)"/>
<path d="M0 0Q.5 .15 1 0" transform="matrix(413 91 -91 413 437 785)"/>
<path d="M0 0Q.5 .15 1 0" transform="matrix(-257 111 -111 -257 850 876)"/>
<path d="M0 0Q.5 .15 1 0" transform="matrix(925 66 -66 925 234 884)"/>
<path d="M0 0Q.5 .15 1 0" transform="matrix(616 -8 8 616 234 884)"/>
<path d="M0 0Q.5 .15 1 0" transform="matrix(-566 37 -37 -566 1159 950)"/>
</g>
<g class="e bm">
<path d="M0 0Q.5 .15 1 0" transform="matrix(280 517 -517 280 737 184)"/>
<path d="M0 0Q.5 .15 1 0" transform="matrix(-536 52 -52 -536 968 431)"/>
<path d="M0 0Q.5 .15 1 0" transform="matrix(182 -58 58 182 968 431)"/>
<path d="M0 0Q.5 .05 1 0" transform="matrix(-834 -27 27 -834 1266 510)"/>
<path d="M0 0Q.5 .15 1 0" transform="matrix(718 -110 110 718 432 483)"/>
<path d="M0 0Q.5 .05 1 0" transform="matrix(166 -119 119 166 948 297)"/>
<path d="M0 0Q.5 .15 1 0" transform="matrix(698 95 -95 698 319 606)"/>
<path d="M0 0Q.5 .1 1 0" transform="matrix(239 54 -54 239 80 552)"/>
<path d="M0 0Q.5 .15 1 0" transform="matrix(236 105 -105 236 196 378)"/>
<path d="M0 0Q.5 .15 1 0" transform="matrix(-418 -393 393 -418 850 876)"/>
<path d="M0 0Q.5 .15 1 0" transform="matrix(-167 175 -175 -167 1017 701)"/>
<path d="M0 0Q.5 .08 1 0" transform="matrix(-113 123 -123 -113 432 483)"/>
<path d="M0 0Q.5 .05 1 0" transform="matrix(-170 56 -56 -170 1320 317)"/>
<path d="M0 0Q.5 .15 1 0" transform="matrix(378 60 -60 378 432 483)"/>
<path d="M0 0Q.5 .15 1 0" transform="matrix(309 74 -74 309 850 876)"/>
<path d="M0 0Q.5 .15 1 0" transform="matrix(255 -24 24 255 762 725)"/>
<path d="M0 0Q.5 .1 1 0" transform="matrix(469 21 -21 469 548 680)"/>
<path d="M0 0Q.5 .1 1 0" transform="matrix(69 404 -404 69 948 297)"/>
<path d="M0 0Q.5 .15 1 0" transform="matrix(-207 63 -63 -207 1224 638)"/>
<path d="M0 0Q.5 .1 1 0" transform="matrix(-42 128 -128 -42 1266 510)"/>
<path d="M0 0Q.5 .15 1 0" transform="matrix(727 467 -467 727 432 483)"/>
<path d="M0 0Q.5 .15 1 0" transform="matrix(-531 -270 270 -531 850 876)"/>
<path d="M0 0Q.5 .15 1 0" transform="matrix(-611 -270 270 -611 1159 950)"/>
<path d="M0 0Q.5 .15 1 0" transform="matrix(-1079 -398 398 -1079 1159 950)"/>
<path d="M0 0Q.5 .05 1 0" transform="matrix(20 134 -134 20 948 297)"/>
</g>
<g class="e tk">
<path d="M0 0Q.5 .19 1 0" transform="matrix(585 218 -218 585 432 483)" style="stroke-width:18"/>
<path d="M0 0Q.5 .17 1 0" transform="matrix(516 -186 186 516 432 483)" style="stroke-width:13"/>
<path d="M0 0Q.5 .15 1 0" transform="matrix(-142 -249 249 -142 1159 950)" style="stroke-width:15"/>
<path d="M0 0Q.5 .15 1 0" transform="matrix(207 158 -158 207 810 543)" style="stroke-width:11"/>
</g>
</g>
<g id="nodes">
<g id="n-vegan-diet" class="nb"><circle cx="979" cy="39" r="22"/><text x="979" y="85">vegan diet</text></g>
<g id="n-dietary-pattern" class="nb"><circle cx="394" cy="199" r="22"/><text x="394" y="244">dietary pattern</text></g>
<g id="n-obesity" class="nb"><circle cx="737" cy="184" r="22"/><text x="737" y="230">obesity</text></g>
<g id="n-mediterranean-diet" class="nb"><circle cx="1114" cy="178" r="22"/><text x="1114" y="222">mediterranean diet</text></g>
<g id="n-protein" class="nb"><circle cx="600" cy="260" r="22"/><text x="600" y="304">protein</text></g>
<g id="n-vegan" class="nb"><circle cx="948" cy="297" r="22"/><text x="948" y="340">vegan</text></g>
<g id="n-gut-microbiota" class="nb"><circle cx="1320" cy="317" r="22"/><text x="1320" y="363">gut microbiota</text></g>
<g id="n-lifestyle" class="nb"><circle cx="380" cy="349" r="22"/><text x="380" y="393">lifestyle</text></g>
<g id="n-epidemiology" class="nb"><circle cx="196" cy="378" r="22"/><text x="196" y="420">epidemiology</text></g>
<g id="n-meat" class="nb"><circle cx="702" cy="385" r="22"/><text x="702" y="430">meat</text></g>
<g id="n-health" class="nb"><circle cx="1150" cy="373" r="22"/><text x="1150" y="417">health</text></g>
<g id="n-cardiovascular-disease" class="nb"><circle cx="968" cy="431" r="22"/><text x="968" y="475">cardiovascular disease</text></g>
<g id="n-vegetarian" class="nb"><circle cx="432" cy="483" r="31"/><text class="vg" x="432" y="541">vegetarian</text></g>
<g id="n-vegetarian-diet" class="nb"><circle cx="810" cy="543" r="40"/><text class="vd" x="810" y="618">vegetarian diet</text></g>
<g id="n-diabetes" class="nb"><circle cx="1266" cy="510" r="22"/><text x="1266" y="554">diabetes</text></g>
<g id="n-risk-factor" class="nb"><circle cx="80" cy="552" r="22"/><text x="80" y="594">risk factor</text></g>
<g id="n-mortality" class="nb"><circle cx="319" cy="606" r="22"/><text x="319" y="651">mortality</text></g>
<g id="n-inflammation" class="nb"><circle cx="1224" cy="638" r="25"/><text class="in" x="1224" y="685">inflammation</text></g>
<g id="n-diet" class="nb"><circle cx="1017" cy="701" r="78"/><text class="di" x="1018" y="841">diet</text></g>
<g id="n-prevention" class="nb"><circle cx="548" cy="680" r="22"/><text x="548" y="724">prevention</text></g>
<g id="n-vegetarians" class="nb"><circle cx="146" cy="697" r="22"/><text x="146" y="740">vegetarians</text></g>
<g id="n-colorectal-cancer" class="nb"><circle cx="762" cy="725" r="22"/><text class="cc" x="762" y="769">colorectal cancer</text></g>
<g id="n-human" class="nb"><circle cx="437" cy="785" r="22"/><text x="437" y="829">human</text></g>
<g id="n-breast-cancer" class="nb"><circle cx="850" cy="876" r="26"/><text class="bc" x="850" y="924">breast cancer</text></g>
<g id="n-vegetables" class="nb"><circle cx="234" cy="884" r="22"/><text x="234" y="928">vegetables</text></g>
<g id="n-cancer" class="nb"><circle cx="1159" cy="950" r="53"/><text class="ca" x="1162" y="1083">cancer</text></g>
<g id="n-prostate-cancer" class="nb"><circle cx="593" cy="987" r="22"/><text x="593" y="1032">prostate cancer</text></g>
<g id="n-isoflavones" class="ng"><circle cx="375" cy="1127" r="22"/><text x="375" y="1170">isoflavones</text></g>
<g id="n-phytoestrogens" class="ng"><circle cx="659" cy="1183" r="22"/><text x="659" y="1226">phytoestrogens</text></g>
<g id="n-genistein" class="ng"><circle cx="437" cy="1336" r="22"/><text x="437" y="1380">genistein</text></g>
<g id="n-bioactive-compounds" class="nr"><circle cx="2129" cy="620" r="23"/><text x="2129" y="664">bioactive compounds</text></g>
<g id="n-polyphenols" class="nr"><circle cx="1884" cy="719" r="23"/><text x="1884" y="763">polyphenols</text></g>
<g id="n-bioavailability" class="nr"><circle cx="2097" cy="785" r="23"/><text x="2097" y="829">bioavailability</text></g>
<g id="n-medicinal-plants" class="nr"><circle cx="2372" cy="790" r="23"/><text x="2372" y="835">medicinal plants</text></g>
<g id="n-anti-inflammatory" class="nr"><circle cx="2626" cy="903" r="23"/><text x="2626" y="946">anti-inflammatory</text></g>
<g id="n-antioxidant" class="nr"><circle cx="1673" cy="879" r="27"/><text class="ao" x="1673" y="930">antioxidant</text></g>
<g id="n-oxidative-stress" class="nr"><circle cx="1954" cy="912" r="23"/><text x="1954" y="955">oxidative stress</text></g>
<g id="n-anticancer" class="nr"><circle cx="2285" cy="956" r="23"/><text x="2285" y="999">anticancer</text></g>
<g id="n-apoptosis" class="nr"><circle cx="2094" cy="984" r="23"/><text x="2094" y="1027">apoptosis</text></g>
<g id="n-phytochemicals" class="nr"><circle cx="1569" cy="1025" r="25"/><text class="ph" x="1569" y="1071">phytochemicals</text></g>
<g id="n-flavonoids" class="nr"><circle cx="1828" cy="1040" r="23"/><text x="1828" y="1083">flavonoids</text></g>
<g id="n-natural-products" class="nr"><circle cx="1993" cy="1089" r="23"/><text x="1993" y="1132">natural products</text></g>
<g id="n-curcumin" class="nr"><circle cx="2325" cy="1074" r="23"/><text x="2325" y="1117">curcumin</text></g>
<g id="n-chemoprevention" class="nr"><circle cx="1656" cy="1195" r="23"/><text x="1656" y="1238">chemoprevention</text></g>
<g id="n-cytotoxicity" class="nr"><circle cx="2004" cy="1226" r="23"/><text x="2004" y="1270">cytotoxicity</text></g>
<g id="n-anti-cancer" class="nr"><circle cx="2377" cy="1237" r="23"/><text x="2377" y="1281">anti-cancer</text></g>
<g id="n-molecular-docking" class="nr"><circle cx="1618" cy="1374" r="23"/><text x="1618" y="1418">molecular docking</text></g>
<g id="n-chemotherapy" class="nr"><circle cx="1995" cy="1365" r="23"/><text x="1995" y="1409">chemotherapy</text></g>
</g>
</svg>
